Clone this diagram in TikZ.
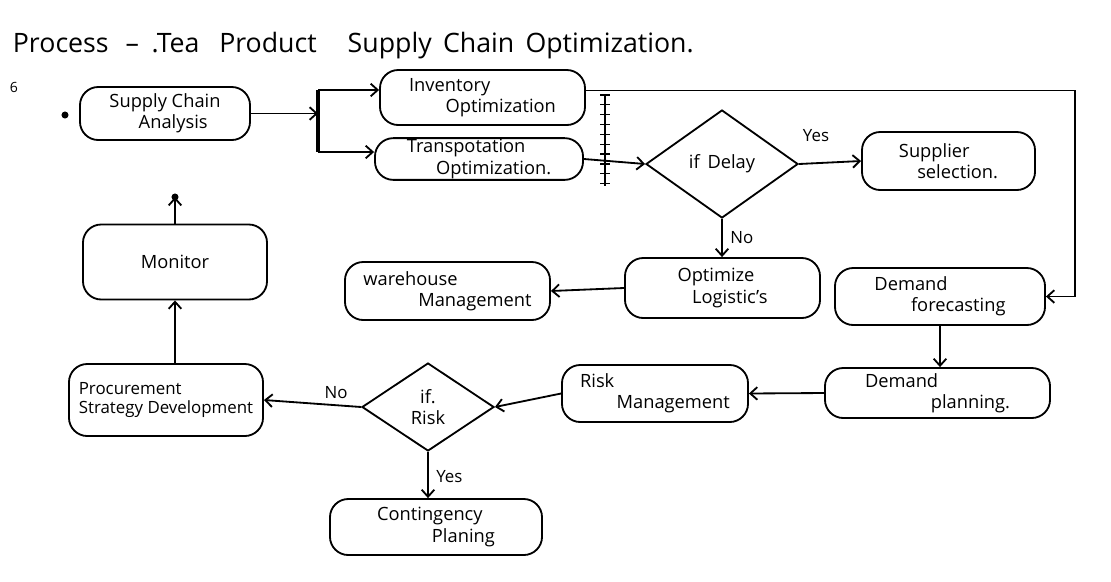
\documentclass[tikz,border=0pt]{standalone}
\usepackage{fontspec}
\setmainfont{Open Sans}
\usetikzlibrary{arrows.meta,shapes.geometric,decorations.markings}
\newcommand\boxtext{\fontsize{13}{15}\selectfont}
\begin{document}
\begin{tikzpicture}[x=0.025cm,y=-0.025cm,
  line width=1.3pt,
  box/.style={draw, rounded corners=13pt, align=left, font=\boxtext, inner sep=3pt},
  decision/.style={draw, diamond, inner sep=0pt, align=center, font=\boxtext},
  flow/.style={draw, -{Straight Barb[length=5pt,width=9pt]}},
  lbl/.style={font=\fontsize{12}{14}\selectfont, inner sep=1pt}]
\useasboundingbox (0,0) rectangle (1111,581);

% title and margin marks
\node[anchor=base west, font=\fontsize{19}{21}\selectfont, inner sep=0] (title) at (12,52)
  {Process\hspace{12pt}--\hspace{9pt}.Tea\hspace{14pt}Product\hspace{22pt}Supply\hspace{8pt}Chain\hspace{8pt}Optimization.};
\node[font=\fontsize{10}{12}\selectfont, inner sep=0] (num) at (14,87) {6};
\node[circle, fill, inner sep=0, minimum size=5pt] (dot) at (65,115) {};

% process boxes
\node[box, minimum width=4.25cm, minimum height=1.325cm] (sca) at (165,113.5)
  {Supply Chain\\\hspace*{1.6em}Analysis};
\node[box, minimum width=5.125cm, minimum height=1.375cm] (inv) at (482.5,97.5)
  {Inventory\\\hspace*{2em}Optimization};
\node[box, minimum width=5.2cm, minimum height=0.95cm, inner sep=1pt] (trans) at (479,159)
  {Transpotation\\\hspace*{1.6em}Optimization.};
\node[box, minimum width=4.325cm, minimum height=1.45cm] (sup) at (948.5,161)
  {Supplier\\\hspace*{1em}selection.};
\node[box, minimum width=4.875cm, minimum height=1.5cm] (optl) at (722.5,288)
  {Optimize\\\hspace*{0.8em}Logistic's};
\node[box, minimum width=5.125cm, minimum height=1.45cm] (ware) at (447.5,291)
  {warehouse\\\hspace*{3em}Management};
\node[box, minimum width=5.25cm, minimum height=1.425cm] (dfc) at (940,296.5)
  {Demand\\\hspace*{2em}forecasting};
\node[box, minimum width=5.625cm, minimum height=1.25cm] (dpl) at (937.5,393)
  {Demand\\\hspace*{3.6em}planning.};
\node[box, minimum width=4.65cm, minimum height=1.425cm] (risk) at (655,393.5)
  {Risk\\\hspace*{2em}Management};
\node[box, minimum width=4.85cm, minimum height=1.8cm, font=\fontsize{12}{14}\selectfont] (proc) at (166,400)
  {Procurement\\Strategy Development};
\node[box, minimum width=5.3cm, minimum height=1.4cm] (cont) at (436,527)
  {Contingency\\\hspace*{3em}Planing};
\node[box, minimum width=4.6cm, minimum height=1.875cm] (mon) at (175,262)
  {Monitor};

% decisions
\node[decision, minimum width=3.8cm, minimum height=2.7cm] (delay) at (722,164) {if\, Delay};
\node[decision, minimum width=3.3cm, minimum height=2.2cm] (riskd) at (428,407) {if.\\Risk};

% helper points
\coordinate (b1t) at (318,90);
\coordinate (b1b) at (318,152);
\coordinate (hbt) at (605,95);
\coordinate (hbb) at (605,186);
\coordinate (rt) at (1075,200);
\coordinate (up) at (175,197);

% split bar after the analysis
\draw[line width=2.6pt] (b1t) -- (b1b);
\draw[flow] (sca.east) -- (sca.east -| b1t);
\draw[flow] (b1t) -- (b1t -| inv.west);
\draw[flow] (b1b) -- (b1b -| trans.west);

% loop from inventory to forecasting
\draw[flow] ([yshift=5pt]inv.east) -| (rt) |- (dfc.east);

% hatched join bar
\draw[decoration={markings, mark=between positions 0 and 1 step 7pt with
   {\draw[line width=0.9pt] (0,-3.5pt) -- (0,3.5pt);}}, postaction={decorate}, line width=1.5pt]
  (hbt) -- (hbb);

% main flow
\draw[flow] (trans.east) -- (delay.west);
\draw[flow] (delay.east) -- (sup.west);
\draw[flow] (delay.south) -- (delay.south |- optl.north);
\draw[flow] (optl.west) -- (ware.east);
\draw[flow] (dfc.south) -- (dfc.south |- dpl.north);
\draw[flow] (dpl.west) -- (risk.east);
\draw[flow] (risk.west) -- (riskd.east);
\draw[flow] (riskd.west) -- (proc.east);
\draw[flow] (riskd.south) -- (riskd.south |- cont.north);
\draw[flow] (mon.south |- proc.north) -- (mon.south);
\draw[flow] (mon.north) -- (up);
\fill (up) circle (2.5pt);

% branch labels
\node[lbl] (yes1) at (816,136) {Yes};
\node[lbl, anchor=west] (no1) at (728,238) {No};
\node[lbl] (no2) at (336,393) {No};
\node[lbl, anchor=west] (yes2) at (434,477) {Yes};
\end{tikzpicture}
\end{document}
